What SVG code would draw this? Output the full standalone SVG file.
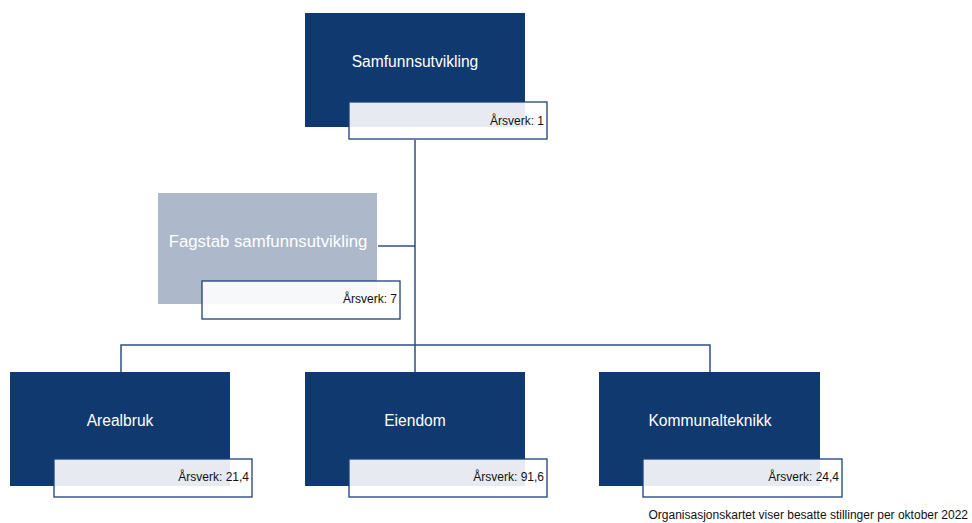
<svg xmlns="http://www.w3.org/2000/svg" width="972" height="523" viewBox="0 0 972 523">
<style>
.dark{fill:#103970}
.light{fill:#ADB8CB}
.lab{fill:#ffffff;fill-opacity:0.9;stroke:#1F3F7A;stroke-width:1.3}
.t{font-family:"Liberation Sans",Arial,sans-serif;fill:#ffffff;font-size:15.6px;text-anchor:middle}
.a{font-family:"Liberation Sans",Arial,sans-serif;fill:#111111;font-size:12px;text-anchor:end}
.c{fill:none;stroke:#2E4D85;stroke-width:1.5}
</style>
<rect width="972" height="523" fill="#ffffff"/>
<g id="connectors">
<path class="c" d="M415 140 V345"/>
<path class="c" d="M378 246 H415"/>
<path class="c" d="M121 372 V345 H710 V372"/>
<path class="c" d="M415 345 V372"/>
</g>
<g id="samfunnsutvikling">
<rect class="dark" x="305" y="13" width="220" height="114"/>
<text class="t" x="415" y="67">Samfunnsutvikling</text>
<rect class="lab" x="349" y="102" width="198" height="37"/>
<text class="a" x="544" y="125">Årsverk: 1</text>
</g>
<g id="fagstab">
<rect class="light" x="158" y="193" width="219" height="111"/>
<text class="t" x="268" y="247" style="font-size:16.8px">Fagstab samfunnsutvikling</text>
<rect class="lab" x="202" y="281" width="198" height="38"/>
<text class="a" x="397" y="303">Årsverk: 7</text>
</g>
<g id="arealbruk">
<rect class="dark" x="10" y="372" width="220" height="114"/>
<text class="t" x="120" y="426">Arealbruk</text>
<rect class="lab" x="54" y="459" width="198" height="38"/>
<text class="a" x="249" y="481">Årsverk: 21,4</text>
</g>
<g id="eiendom">
<rect class="dark" x="305" y="372" width="220" height="114"/>
<text class="t" x="415" y="426">Eiendom</text>
<rect class="lab" x="349" y="459" width="198" height="38"/>
<text class="a" x="544" y="481">Årsverk: 91,6</text>
</g>
<g id="kommunalteknikk">
<rect class="dark" x="599" y="372" width="221" height="114"/>
<text class="t" x="710" y="426">Kommunalteknikk</text>
<rect class="lab" x="643" y="459" width="199" height="38"/>
<text class="a" x="839" y="481">Årsverk: 24,4</text>
</g>
<text x="968" y="519" style="font-family:'Liberation Sans',Arial,sans-serif;font-size:12px;fill:#111111;text-anchor:end">Organisasjonskartet viser besatte stillinger per oktober 2022</text>
</svg>
